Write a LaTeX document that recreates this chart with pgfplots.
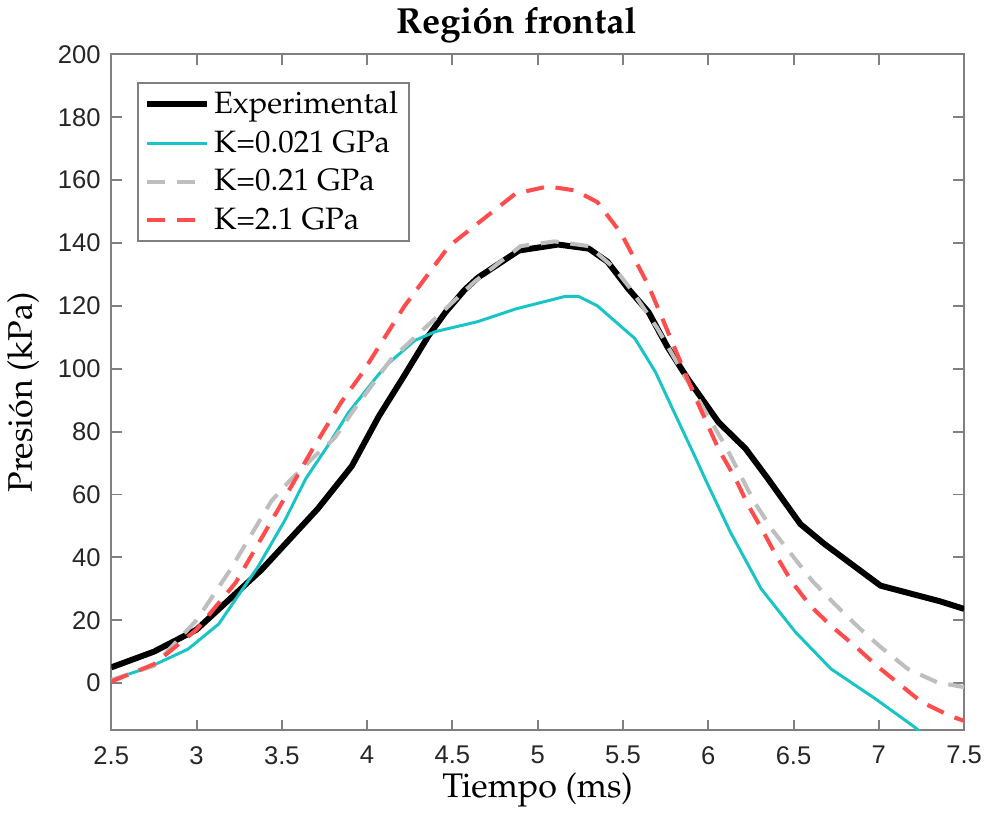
\documentclass[border=0pt]{standalone}
\usepackage{fontspec}
\usepackage[T1,TU]{fontenc}
\newfontfamily\ticksf{Liberation Sans}
\usepackage{pgfplots}
\pgfplotsset{compat=1.18}
\newcommand{\pal}{\fontencoding{T1}\fontfamily{ppl}\selectfont}
\definecolor{mcyan}{RGB}{25,196,198}
\definecolor{mred}{RGB}{255,77,77}
\definecolor{mgray}{RGB}{190,190,190}
\definecolor{axgray}{RGB}{128,128,128}
\definecolor{tickgray}{RGB}{38,38,38}
\begin{document}
\begin{tikzpicture}
\begin{axis}[
  width=400pt, height=317pt, scale only axis,
  xmin=2.5, xmax=7.5, ymin=-15, ymax=200,
  xtick={2.5,3,3.5,4,4.5,5,5.5,6,6.5,7,7.5},
  xticklabels={2.5,3,3.5,4,4.5,5,5.5,6,6.5,7,7.5},
  ytick={0,20,40,60,80,100,120,140,160,180,200},
  tick align=inside,
  major tick length=5pt,
  axis line style={axgray, line width=0.9pt},
  every tick/.style={axgray, line width=0.9pt},
  /pgf/number format/assume math mode=true,
  tick label style={font=\ticksf\fontsize{12}{14}\selectfont, text=tickgray},
  xticklabel style={yshift=-4pt},
  yticklabel style={xshift=-1.5pt},
  title={\pal\bfseries\fontsize{17}{20}\selectfont Regi\'on frontal},
  title style={xshift=-10pt, yshift=-4pt},
  xlabel={\pal\fontsize{16}{18}\selectfont Tiempo (ms)},
  ylabel={\pal\fontsize{16}{18}\selectfont Presi\'on (kPa)},
  xlabel style={yshift=3pt},
  ylabel style={yshift=2pt},
  legend style={at={(0.030,0.959)}, anchor=north west, draw=axgray, line width=0.8pt,
    font=\pal\fontsize{14.5}{17}\selectfont, inner xsep=3pt, inner ysep=2pt,
    row sep=2.5pt},
  legend cell align=left,
  legend image code/.code={\draw[#1] (0pt,0pt) -- (28pt,0pt);},
]
\addplot[black, line width=2.8pt] coordinates {
(2.5,5) (2.75,10) (3.0,17) (3.19,26.5) (3.38,36) (3.55,46) (3.71,55.4) (3.91,69) (4.07,85)
(4.22,98) (4.36,110.5) (4.46,118) (4.57,125) (4.65,129) (4.89,137.6) (5.12,139.5)
(5.30,138.2) (5.41,134) (5.53,125.5) (5.65,118) (5.76,107) (5.88,96.8) (6.06,83) (6.22,74.5)
(6.35,65) (6.54,50.6) (6.68,44.3) (7.01,31) (7.36,26) (7.5,23.6)};
\addlegendentry{Experimental}
\addplot[mcyan, line width=1.4pt] coordinates {
(2.5,1) (2.72,5) (2.95,10.8) (3.13,18.8) (3.36,37) (3.52,52) (3.64,65) (3.77,75.5) (3.89,86)
(4.05,97) (4.11,101) (4.28,109)
(4.40,111.8) (4.65,115) (4.87,119) (5.16,123) (5.24,123) (5.35,120) (5.57,109.6) (5.69,99)
(5.81,85) (5.92,72.3) (5.99,64) (6.13,48) (6.31,30) (6.51,16.3) (6.72,4.5) (6.98,-5)
(7.21,-14) (7.3,-18)};
\addlegendentry{K=0.021 GPa}
\addplot[mgray, line width=1.9pt, dash pattern=on 8.5pt off 5.5pt] coordinates {
(2.5,1) (2.75,5.5) (3.0,20) (3.19,35.4) (3.44,58) (3.54,64) (3.67,71) (3.81,78) (3.91,86) (4.14,103) (4.42,117) (4.63,127.7)
(4.9,139) (5.1,140.5) (5.3,139) (5.45,132) (5.55,125) (5.7,113) (5.88,96) (6.10,75.5)
(6.27,57.6) (6.38,48.4) (6.50,40.1) (6.61,32.5) (6.74,25.2) (6.88,17.8) (7.01,11.5) (7.17,4.5)
(7.34,0.3) (7.5,-1.3)};
\addlegendentry{K=0.21 GPa}
\addplot[mred, line width=1.9pt, dash pattern=on 8.5pt off 5.5pt] coordinates {
(2.5,0.5) (2.75,6) (3.0,17) (3.23,32) (3.48,55.4) (3.67,73.5) (3.85,89.5) (3.97,98.5) (4.22,120) (4.48,139) (4.87,155.7)
(5.06,158) (5.22,156.7) (5.35,153) (5.49,143) (5.65,126.4) (5.78,109.6) (5.92,91.4) (6.06,74.5)
(6.16,65) (6.23,57) (6.31,49.4) (6.40,40.4) (6.49,32.2) (6.60,24.5) (6.72,18.2) (6.86,11.8)
(6.99,5.4) (7.12,-0.3) (7.25,-6) (7.42,-10.5) (7.5,-12)};
\addlegendentry{K=2.1 GPa}
\end{axis}
\end{tikzpicture}
\end{document}
